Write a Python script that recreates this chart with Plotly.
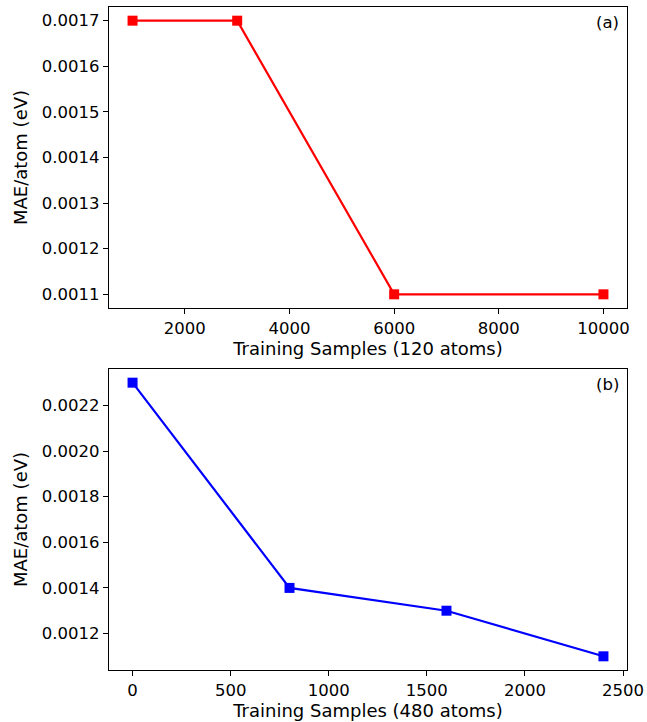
import plotly.graph_objects as go
from plotly.subplots import make_subplots

# Data
samples_a = [1000, 3000, 6000, 10000]
mae_a = [0.0017, 0.0017, 0.0011, 0.0011]
samples_b = [0, 800, 1600, 2400]
mae_b = [0.0023, 0.0014, 0.0013, 0.0011]

xticks_a = [2000, 4000, 6000, 8000, 10000]
yticks_a = [0.0011, 0.0012, 0.0013, 0.0014, 0.0015, 0.0016, 0.0017]
xticks_b = [0, 500, 1000, 1500, 2000, 2500]
yticks_b = [0.0012, 0.0014, 0.0016, 0.0018, 0.0020, 0.0022]

FONT = "DejaVu Sans"
FS = 18
TFS = 16.5

fig = make_subplots(rows=2, cols=1, vertical_spacing=0.0)

fig.add_trace(go.Scatter(x=samples_a, y=mae_a, mode="lines+markers",
                         line=dict(color="#ff0000", width=2.2),
                         marker=dict(symbol="square", size=10, color="#ff0000"),
                         showlegend=False), row=1, col=1)
fig.add_trace(go.Scatter(x=samples_b, y=mae_b, mode="lines+markers",
                         line=dict(color="#0000ff", width=2.2),
                         marker=dict(symbol="square", size=10, color="#0000ff"),
                         showlegend=False), row=2, col=1)

axis_common = dict(showline=True, linecolor="black", linewidth=1.2, mirror=True,
                   ticks="outside", ticklen=5, tickwidth=1.2, tickcolor="black",
                   showgrid=False, zeroline=False, automargin=False,
                   tickfont=dict(family=FONT, size=TFS, color="black"))

fig.update_xaxes(**axis_common)
fig.update_yaxes(**axis_common)

fig.update_layout(
    xaxis=dict(domain=[0, 1], range=[550, 10450], tickvals=xticks_a, tickformat="d",
               title=dict(text="Training Samples (120 atoms)", standoff=3,
                          font=dict(family=FONT, size=FS, color="black"))),
    yaxis=dict(domain=[0.546, 1.0], range=[0.00107, 0.00173], tickvals=yticks_a,
               tickformat=".4f",
               title=dict(text="MAE/atom (eV)", standoff=9,
                          font=dict(family=FONT, size=FS, color="black"))),
    xaxis2=dict(domain=[0, 1], range=[-120, 2520], tickvals=xticks_b, tickformat="d",
                title=dict(text="Training Samples (480 atoms)", standoff=3,
                           font=dict(family=FONT, size=FS, color="black"))),
    yaxis2=dict(domain=[0.0, 0.454], range=[0.00104, 0.00236], tickvals=yticks_b,
                tickformat=".4f",
                title=dict(text="MAE/atom (eV)", standoff=9,
                           font=dict(family=FONT, size=FS, color="black"))),
    width=647, height=722,
    margin=dict(l=109, r=20, t=7, b=52),
    plot_bgcolor="white", paper_bgcolor="white",
    font=dict(family=FONT, size=FS, color="black"),
)

fig.add_annotation(text="(a)", xref="x domain", yref="y domain", x=1, y=1,
                   xanchor="right", yanchor="top", xshift=-6, yshift=-4,
                   showarrow=False, font=dict(family=FONT, size=TFS, color="black"))
fig.add_annotation(text="(b)", xref="x2 domain", yref="y2 domain", x=1, y=1,
                   xanchor="right", yanchor="top", xshift=-6, yshift=-4,
                   showarrow=False, font=dict(family=FONT, size=TFS, color="black"))

fig.write_html("out.html", config={"displayModeBar": False},
               post_script="document.body.style.margin='0';document.body.style.padding='0';")
